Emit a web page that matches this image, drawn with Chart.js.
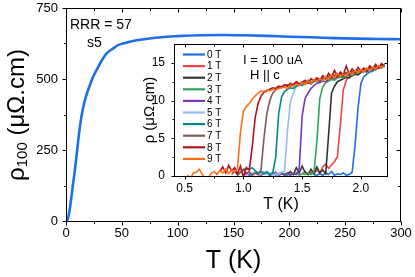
<!DOCTYPE html>
<html>
<head>
<meta charset="utf-8">
<script src="https://cdn.jsdelivr.net/npm/chart.js@4.4.1/dist/chart.umd.min.js"></script>
<style>
  html, body { margin: 0; padding: 0; background: #fff; }
  #wrap { position: relative; width: 415px; height: 277px; overflow: hidden; }
  #main { position: absolute; left: 0; top: 0; }
  #inset { position: absolute; left: 136px; top: 38px; }
</style>
</head>
<body>
<div id="wrap">
  <canvas id="main" width="415" height="277"></canvas>
  <canvas id="inset" width="259" height="176"></canvas>
</div>
<script>
const FONT = "'Liberation Sans', Arial, sans-serif";

// Curva principal: rho100 vs T
const MAIN_T = [0.8, 1.5, 2, 3, 4, 5, 6, 8, 10, 12, 14, 16, 18, 21, 24, 27.5, 32, 36.4, 42, 47, 54, 60, 70, 80, 90, 100, 120, 140, 160, 180, 200, 220, 240, 260, 280, 300];
const MAIN_RHO = [0, 6, 12, 32, 60, 90, 121, 180, 250, 318, 372, 410, 440, 474, 505, 532, 565, 590, 607, 620, 628, 634, 640, 645, 649, 651, 654, 655, 654, 652, 649, 647, 644, 642, 641, 640];
const MAIN_X_TICKS = [0, 50, 100, 150, 200, 250, 300];
const MAIN_X_MINOR = [25, 75, 125, 175, 225, 275];
const MAIN_Y_TICKS = [0, 250, 500, 750];
const MAIN_Y_MINOR = [125, 375, 625];

// Inset: transiciones superconductoras
const INSET_T = [0.5, 0.525, 0.55, 0.575, 0.6, 0.625, 0.65, 0.675, 0.7, 0.725,
  0.75, 0.775, 0.8, 0.825, 0.85, 0.875, 0.9, 0.925, 0.95, 0.975,
  1.0, 1.025, 1.05, 1.075, 1.1, 1.125, 1.15, 1.175, 1.2, 1.225,
  1.25, 1.275, 1.3, 1.325, 1.35, 1.375, 1.4, 1.425, 1.45, 1.475,
  1.5, 1.525, 1.55, 1.575, 1.6, 1.625, 1.65, 1.675, 1.7, 1.725,
  1.75, 1.775, 1.8, 1.825, 1.85, 1.875, 1.9, 1.925, 1.95, 1.975,
  2.0, 2.025, 2.05, 2.075, 2.1, 2.125, 2.15, 2.175, 2.2];
const FIELD_LABELS = ['0 T', '1 T', '2 T', '3 T', '4 T', '5 T', '6 T', '7 T', '8 T', '9 T'];
const FIELD_COLORS = ['#1f6fe6', '#f04545', '#333333', '#2ea65a', '#7a35c8', '#94bdf2', '#008a84', '#7d5a55', '#b3121d', '#ff6f0f'];

const RHO_0T = [null, null, null, null, null, null, null, null, null, null,
  null, null, null, null, null, null, null, null, null, null,
  null, null, null, null, null, null, null, null, null, null,
  null, null, null, null, null, null, null, null, null, null,
  null, null, null, null, 0.2, 0.1, 0.3, 0.1, 0.4, 0.2,
  0.6, 0.1, 0.3, 0.2, 0.4, 0.1, 0.2, 0.5, 4.1, 9.0,
  12.3, 13.2, 13.5, 13.8, 13.9, 14.2, 14.4, 14.5, 14.8];
const RHO_1T = [null, null, null, null, null, null, null, null, null, null,
  null, null, null, null, null, null, null, null, null, null,
  null, null, null, null, null, null, null, null, null, null,
  null, null, null, null, null, null, null, null, null, null,
  0.3, 0.6, 0.2, 0.5, 0.3, 0.8, 0.4, 1.2, 1.6, 1.0,
  1.5, 1.9, 2.6, 6.8, 11.4, 12.7, 13.2, 13.4, 13.6, 13.5,
  13.8, 14.0, 13.9, 14.2, 14.3, 14.2, 14.5, 14.4, 14.7];
const RHO_2T = [null, null, null, null, null, null, null, null, null, null,
  null, null, null, null, null, null, null, null, null, null,
  null, null, null, null, null, null, null, null, null, null,
  null, null, 0.2, 0.4, 0.1, 0.3, 0.6, 0.2, 1.1, 0.4,
  1.3, 0.5, 0.2, 0.9, 0.3, 1.2, 0.4, 0.8, 0.3, 5.5,
  11.0, 11.9, 12.5, 12.7, 12.9, 13.1, 13.0, 13.3, 13.5, 13.4,
  13.7, 13.9, 13.8, 14.1, 14.2, 14.1, 14.4, 14.6, 14.5];
const RHO_3T = [null, null, null, null, null, null, null, null, null, null,
  null, null, null, null, null, null, null, null, null, null,
  null, null, 0.3, 0.1, 0.4, 0.2, 0.5, 0.3, 0.6, 0.2,
  0.4, 0.1, 0.3, 0.5, 0.2, 0.1, 0.3, 0.2, 0.4, 0.1,
  0.3, 0.2, 0.4, 0.2, 0.5, 4.5, 10.3, 11.8, 12.4, 12.6,
  12.8, 12.7, 13.0, 13.1, 13.0, 13.3, 13.4, 13.3, 13.6, 13.7,
  13.8, 13.9, 14.0, 14.1, 14.0, 14.3, 14.4, 14.3, 14.6];
const RHO_4T = [null, null, null, null, null, null, null, null, null, null,
  null, null, null, null, null, null, null, null, null, null,
  0.2, 0.4, 0.1, 0.3, 0.5, 0.2, 0.1, 0.4, 0.3, 0.1,
  0.2, 0.5, 0.1, 0.3, 0.2, 0.4, 0.1, 0.3, 0.2, 1.0,
  8.0, 10.3, 11.0, 11.6, 12.0, 12.3, 12.4, 12.6, 12.5, 12.8,
  13.0, 12.9, 13.2, 13.3, 13.2, 13.5, 13.6, 13.5, 13.8, 13.9,
  13.8, 14.1, 14.0, 14.2, 14.3, 14.2, 14.5, 14.4, 14.7];
const RHO_5T = [null, null, null, null, null, null, null, null, null, null,
  null, null, null, null, null, null, null, null, null, null,
  0.3, 0.1, 0.4, 0.2, 0.5, 0.1, 0.3, 0.6, 0.2, 0.4,
  0.1, 0.3, 0.2, 0.5, 0.6, 6.0, 9.9, 11.0, 11.8, 12.0,
  12.2, 12.1, 12.4, 12.5, 12.4, 12.7, 12.8, 12.7, 13.0, 13.1,
  13.0, 13.3, 13.2, 13.5, 13.4, 13.6, 13.7, 13.6, 13.9, 13.8,
  14.0, 14.1, 14.0, 14.3, 14.2, 14.4, 14.5, 14.4, 14.6];
const RHO_6T = [null, null, null, null, null, null, null, null, null, null,
  null, null, null, null, null, null, null, null, 0.2, 0.5,
  0.8, 1.0, 0.9, 1.1, 0.7, 0.4, 0.6, 0.3, 0.5, 0.2,
  0.4, 2.5, 8.2, 10.5, 11.2, 11.5, 11.7, 11.6, 11.9, 12.1,
  12.0, 12.3, 12.4, 12.2, 12.6, 12.7, 12.5, 12.9, 13.0, 12.8,
  13.2, 13.1, 13.4, 13.3, 13.5, 13.7, 13.6, 13.8, 13.9, 13.8,
  14.1, 14.0, 14.2, 14.3, 14.2, 14.5, 14.4, 14.6, 14.7];
const RHO_7T = [null, null, null, null, null, null, null, null, null, null,
  null, null, null, null, null, null, 0.2, 0.7, 0.1, 0.5,
  0.9, 0.3, 0.6, 0.1, 0.4, 0.2, 0.8, 5.0, 8.3, 10.0,
  11.0, 11.4, 11.8, 11.7, 12.0, 12.1, 11.9, 12.2, 12.4, 12.1,
  12.5, 12.3, 12.7, 12.5, 12.6, 12.9, 12.7, 13.0, 12.9, 13.2,
  13.0, 13.4, 13.2, 13.5, 13.4, 13.7, 13.5, 13.8, 13.7, 14.0,
  13.8, 14.2, 14.0, 14.4, 14.1, 14.5, 14.3, 14.8, 14.6];
const RHO_8T = [null, null, null, null, null, null, null, null, null, null,
  null, null, 0.6, 1.2, 0.4, 1.4, 0.7, 1.1, 0.3, 1.3,
  -0.2, 1.1, 0.8, 3.8, 7.7, 9.6, 10.6, 11.1, 11.3, 11.5,
  11.7, 11.6, 11.9, 11.8, 12.1, 11.9, 12.3, 12.0, 12.5, 12.2,
  12.4, 12.7, 12.3, 12.9, 12.6, 13.0, 12.7, 13.3, 12.9, 13.6,
  13.1, 14.0, 13.2, 13.8, 13.4, 14.6, 13.5, 14.2, 13.7, 14.4,
  13.9, 14.3, 14.0, 14.6, 14.2, 14.8, 14.3, 14.9, 14.5];
const RHO_9T = [null, 0.1, -0.3, 0.4, 0.5, 0.9, 0.2, -0.4, -0.2, 0.3,
  0.6, 0.2, 0.7, 0.4, 0.9, 0.3, 0.8, 0.5, 1.0, 5.8,
  8.6, 9.2, 9.6, 10.2, 10.6, 11.0, 11.3, 11.2, 11.4, 11.3,
  11.5, 11.4, 11.6, 11.7, 11.8, 11.6, 12.0, 11.9, 12.2, 12.0,
  12.4, 12.1, 12.6, 12.3, 12.8, 12.5, 12.9, 12.6, 13.2, 12.8,
  13.4, 13.0, 13.6, 13.2, 13.5, 13.3, 13.8, 13.5, 14.0, 13.7,
  14.1, 13.8, 14.3, 14.0, 14.4, 14.2, 14.6, 14.4, 14.6];
const INSET_SERIES = [RHO_0T, RHO_1T, RHO_2T, RHO_3T, RHO_4T, RHO_5T, RHO_6T, RHO_7T, RHO_8T, RHO_9T];

const INSET_X_TICKS = [0.5, 1.0, 1.5, 2.0];
const INSET_X_MINOR = [0.75, 1.25, 1.75];
const INSET_Y_TICKS = [0, 5, 10, 15];
const INSET_Y_MINOR = [2.5, 7.5, 12.5];

Chart.defaults.font.family = FONT;
Chart.defaults.color = '#000';

// Marco con ticks hacia fuera (abajo/izquierda) y hacia dentro (arriba/derecha)
function drawFrame(chart, xMaj, xMin, yMaj, yMin, len, minLen) {
    const { ctx, chartArea: a, scales } = chart;
    const L = Math.round(a.left) + 0.5;
    const R = Math.round(a.right) - 0.5;
    const T = Math.round(a.top) + 0.5;
    const B = Math.round(a.bottom) + 0.5;
    ctx.save();
    ctx.strokeStyle = '#000';
    ctx.lineWidth = 1;
    ctx.strokeRect(L, T, R - L, B - T);
    ctx.beginPath();
    const xt = (v, l) => {
        const p = Math.round(scales.x.getPixelForValue(v)) + 0.5;
        ctx.moveTo(p, B); ctx.lineTo(p, B + l);
        ctx.moveTo(p, T); ctx.lineTo(p, T + l);
    };
    const yt = (v, l) => {
        const p = Math.round(scales.y.getPixelForValue(v)) + 0.5;
        ctx.moveTo(L, p); ctx.lineTo(L - l, p);
        ctx.moveTo(R, p); ctx.lineTo(R - l, p);
    };
    xMaj.forEach(v => xt(v, len));
    xMin.forEach(v => xt(v, minLen));
    yMaj.forEach(v => yt(v, len));
    yMin.forEach(v => yt(v, minLen));
    ctx.stroke();
    ctx.restore();
}

// Chart.js suma el padding de las etiquetas al area; lo quitamos y usamos layout.padding
function sinPadding(s) {
    s.paddingTop = 0;
    s.paddingBottom = 0;
    s.paddingLeft = 0;
    s.paddingRight = 0;
}

const mainDecor = {
    id: 'mainDecor',
    afterDraw(chart) {
        const ctx = chart.ctx;
        drawFrame(chart, MAIN_X_TICKS, MAIN_X_MINOR, MAIN_Y_TICKS, MAIN_Y_MINOR, 4, 2.5);

        // titulo eje y con subindice
        ctx.save();
        ctx.fillStyle = '#000';
        ctx.translate(17, 115);
        ctx.rotate(-Math.PI / 2);
        ctx.textBaseline = 'middle';
        ctx.textAlign = 'left';
        ctx.font = '24px ' + FONT;
        const w1 = ctx.measureText('ρ').width;
        const w3 = ctx.measureText(' (μΩ.cm)').width;
        ctx.font = '15px ' + FONT;
        const w2 = ctx.measureText('100').width;
        const x0 = -(w1 + w2 + w3) / 2;
        ctx.font = '24px ' + FONT;
        ctx.fillText('ρ', x0, 0);
        ctx.font = '15px ' + FONT;
        ctx.fillText('100', x0 + w1, 6);
        ctx.font = '24px ' + FONT;
        ctx.fillText(' (μΩ.cm)', x0 + w1 + w2, 0);
        ctx.restore();

        ctx.save();
        ctx.fillStyle = '#000';
        ctx.font = '14px ' + FONT;
        ctx.textBaseline = 'middle';
        ctx.fillText('RRR = 57', 70, 25);
        ctx.fillText('s5', 87, 43);
        ctx.restore();
    }
};

const insetDecor = {
    id: 'insetDecor',
    afterDraw(chart) {
        const ctx = chart.ctx;
        drawFrame(chart, INSET_X_TICKS, INSET_X_MINOR, INSET_Y_TICKS, INSET_Y_MINOR, 3, 2);

        ctx.save();
        ctx.fillStyle = '#000';
        ctx.textBaseline = 'middle';
        ctx.font = '13px ' + FONT;
        ctx.fillText('I = 100 uA', 107, 22);
        ctx.fillText('H || c', 114, 37);

        // leyenda
        ctx.font = '10px ' + FONT;
        chart.data.datasets.forEach((ds, i) => {
            const y = 16.5 + i * 11.6;
            ctx.strokeStyle = ds.borderColor;
            ctx.lineWidth = 2.2;
            ctx.beginPath();
            ctx.moveTo(47, y);
            ctx.lineTo(69, y);
            ctx.stroke();
            ctx.fillText(ds.label, 71, y + 0.5);
        });
        ctx.restore();
    }
};

function buildMain() {
    const puntos = MAIN_T.map((t, i) => ({ x: t, y: MAIN_RHO[i] }));
    new Chart(document.getElementById('main'), {
        type: 'line',
        data: {
            datasets: [{
                data: puntos,
                borderColor: '#1f6fe6',
                borderWidth: 2.6,
                pointRadius: 0,
                cubicInterpolationMode: 'monotone',
                fill: false
            }]
        },
        options: {
            responsive: false,
            animation: false,
            devicePixelRatio: 1,
            layout: { padding: { top: 8, right: 14, left: 0, bottom: 0 } },
            plugins: { legend: { display: false }, tooltip: { enabled: false } },
            scales: {
                x: {
                    type: 'linear', min: 0, max: 300,
                    afterBuildTicks: s => { s.ticks = MAIN_X_TICKS.map(v => ({ value: v })); },
                    afterFit: s => { s.height = 56; sinPadding(s); },
                    grid: { display: false, drawTicks: false },
                    border: { display: false },
                    ticks: { font: { size: 13 }, padding: 5, maxRotation: 0, autoSkip: false },
                    title: { display: true, text: 'T (K)', font: { size: 25 }, padding: { top: 0, bottom: 1 } }
                },
                y: {
                    type: 'linear', min: 0, max: 750,
                    afterBuildTicks: s => { s.ticks = MAIN_Y_TICKS.map(v => ({ value: v })); },
                    afterFit: s => { s.width = 66; sinPadding(s); },
                    grid: { display: false, drawTicks: false },
                    border: { display: false },
                    ticks: { font: { size: 13 }, padding: 8, autoSkip: false }
                }
            }
        },
        plugins: [mainDecor]
    });
}

function buildInset() {
    const datasets = INSET_SERIES.map((serie, i) => ({
        label: FIELD_LABELS[i],
        data: serie.map((r, k) => ({ x: INSET_T[k], y: r })),
        borderColor: FIELD_COLORS[i],
        borderWidth: 1.6,
        pointRadius: 0,
        tension: 0,
        fill: false,
        order: 9 - i
    }));
    new Chart(document.getElementById('inset'), {
        type: 'line',
        data: { datasets: datasets },
        options: {
            responsive: false,
            animation: false,
            devicePixelRatio: 1,
            layout: { padding: { top: 6, right: 7, left: 0, bottom: 0 } },
            plugins: { legend: { display: false }, tooltip: { enabled: false } },
            scales: {
                x: {
                    type: 'linear', min: 0.41, max: 2.23,
                    afterBuildTicks: s => { s.ticks = INSET_X_TICKS.map(v => ({ value: v })); },
                    afterFit: s => { s.height = 38; sinPadding(s); },
                    grid: { display: false, drawTicks: false },
                    border: { display: false },
                    ticks: { font: { size: 12 }, padding: 5, maxRotation: 0, autoSkip: false, callback: v => v.toFixed(1) },
                    title: { display: true, text: 'T (K)', font: { size: 16 }, padding: { top: 0, bottom: 0 } }
                },
                y: {
                    type: 'linear', min: 0, max: 17.5,
                    afterBuildTicks: s => { s.ticks = INSET_Y_TICKS.map(v => ({ value: v })); },
                    afterFit: s => { s.width = 38; sinPadding(s); },
                    grid: { display: false, drawTicks: false },
                    border: { display: false },
                    ticks: { font: { size: 12 }, padding: 9, autoSkip: false },
                    title: { display: true, text: 'ρ (μΩ.cm)', font: { size: 15 }, padding: { top: 5, bottom: 0 } }
                }
            }
        },
        plugins: [insetDecor]
    });
}

buildMain();
buildInset();
</script>
</body>
</html>
